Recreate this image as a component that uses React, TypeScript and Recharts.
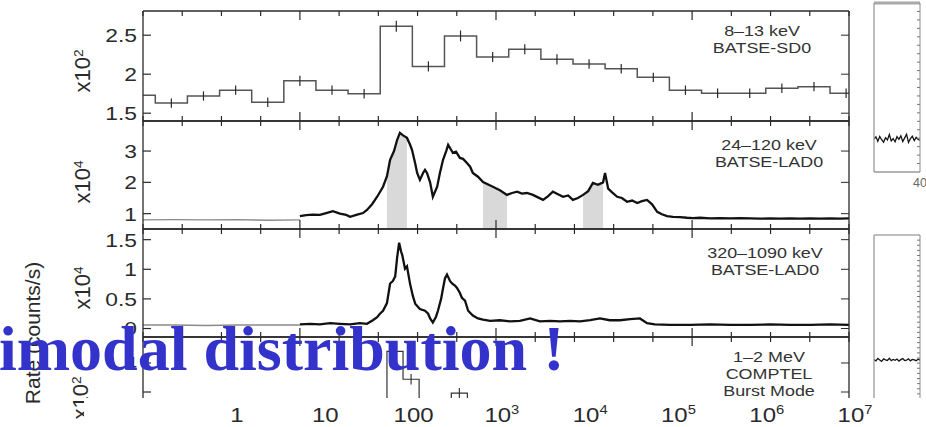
import React from "react";
import { ComposedChart, Line, Area, XAxis, YAxis, ErrorBar } from "recharts";

const W = 926;
const PLOT_L = 143;
const PLOT_R = 849;
const INK = "#2a2a2a";
const SANS = "'Liberation Sans', Arial, Helvetica, sans-serif";

// shared time axis of the stacked panels (s from trigger)
const timeDomain: [number, number] = [-40, 140];
const timeTicks = [-40, -30, -20, -10, 0, 10, 20, 30, 40, 50, 60, 70, 80, 90, 100, 110, 120, 130, 140];
const timeMajor = [0, 50, 100];

// 8-13 keV BATSE-SD0, 8.192 s bins (x10^2 counts/s)
const sdCenter = [-40.96, -32.77, -24.58, -16.38, -8.19, 0, 8.19, 16.38, 24.58, 32.77, 40.96, 49.15, 57.34, 65.54, 73.73, 81.92, 90.11, 98.3, 106.5, 114.69, 122.88, 131.07, 139.26];
const sdRate = [1.73, 1.63, 1.72, 1.795, 1.64, 1.915, 1.795, 1.75, 2.615, 2.1, 2.49, 2.22, 2.32, 2.19, 2.13, 2.07, 1.96, 1.795, 1.755, 1.755, 1.82, 1.84, 1.755];
const sdErr = [0.06, 0.06, 0.06, 0.06, 0.06, 0.065, 0.06, 0.06, 0.07, 0.065, 0.07, 0.065, 0.065, 0.065, 0.06, 0.06, 0.06, 0.06, 0.06, 0.06, 0.06, 0.06, 0.06];
const sdHalfBin = 4.096;

// 24-120 keV BATSE-LAD0 (x10^4 counts/s)
const ladLoPreT = [-40, -32, -24, -16, -8, 0];
const ladLoPre = [0.8, 0.81, 0.8, 0.81, 0.79, 0.8];
const ladLoT = [0, 1.6, 3.3, 5.1, 6.7, 8.4, 10.2, 11.8, 12.8, 14.6, 16.1, 17.1, 18.4, 19.7, 21.2, 22.2, 23.0, 24.0, 24.8, 25.5, 26.3, 27.3, 28.1, 28.6, 29.4, 29.9, 30.6, 31.4, 31.9, 32.4, 33.2, 33.9, 35.0, 35.7, 36.5, 37.3, 37.8, 38.5, 39.0, 39.8, 40.8, 41.6, 42.6, 43.4, 44.1, 45.4, 46.7, 48.0, 49.2, 51.0, 52.8, 54.1, 55.4, 56.6, 57.9, 59.4, 60.7, 62.0, 63.3, 64.5, 65.8, 67.1, 68.4, 69.6, 70.9, 72.2, 73.5, 74.7, 76.0, 77.3, 77.8, 78.6, 79.6, 80.9, 82.1, 83.4, 84.7, 86.0, 87.2, 88.5, 89.8, 91.1, 92.3, 93.6, 95.1, 96.9, 98.7, 100.2, 102.0, 104.6, 107.1, 109.7, 112.2, 114.8, 117.3, 119.9, 122.4, 125.0, 127.5, 130.1, 132.6, 135.2, 137.7, 140];
const ladLo = [0.92, 0.95, 0.97, 0.96, 1.02, 1.08, 1.0, 0.96, 0.9, 0.97, 1.02, 1.12, 1.3, 1.54, 1.86, 2.2, 2.72, 3.0, 3.36, 3.58, 3.5, 3.42, 3.2, 3.03, 2.6, 2.3, 2.08, 2.3, 2.4, 2.3, 2.0, 1.54, 1.86, 2.3, 2.72, 3.0, 3.2, 3.05, 2.94, 2.98, 2.78, 2.75, 2.62, 2.5, 2.3, 2.18, 2.01, 1.93, 1.86, 1.75, 1.6, 1.66, 1.7, 1.64, 1.66, 1.6, 1.52, 1.44, 1.56, 1.7, 1.62, 1.54, 1.58, 1.44, 1.5, 1.6, 1.72, 1.98, 1.92, 2.0, 2.3, 1.8, 1.68, 1.54, 1.5, 1.38, 1.42, 1.34, 1.4, 1.44, 1.3, 1.06, 0.98, 0.92, 0.9, 0.89, 0.87, 0.86, 0.87, 0.85, 0.86, 0.85, 0.86, 0.85, 0.84, 0.85, 0.84, 0.85, 0.84, 0.85, 0.84, 0.85, 0.84, 0.85];
const bandWindows = [[22.2, 27.3], [46.7, 52.8], [72.2, 77.3]];

// 320-1090 keV BATSE-LAD0 (x10^4 counts/s)
const ladHiPreT = [-40, -32, -24, -16, -8, 0];
const ladHiPre = [0.06, 0.06, 0.05, 0.06, 0.06, 0.06];
const ladHiT = [0, 2.6, 5.1, 7.7, 10.2, 12.8, 15.3, 17.1, 18.6, 19.7, 20.4, 21.2, 22.2, 23.0, 23.7, 24.3, 24.8, 25.3, 25.8, 26.1, 26.8, 27.3, 28.1, 28.8, 29.4, 30.6, 31.9, 32.7, 33.2, 33.9, 34.7, 35.2, 36.0, 36.5, 37.0, 37.5, 38.3, 38.8, 39.6, 40.1, 40.8, 41.3, 42.1, 42.9, 44.1, 45.4, 46.7, 48.5, 51.0, 53.6, 56.1, 58.7, 61.2, 63.8, 66.3, 68.9, 71.4, 74.0, 76.5, 79.0, 81.6, 84.2, 86.7, 88.5, 90.5, 94.4, 99.5, 104.6, 109.7, 114.8, 119.9, 125.0, 130.1, 135.2, 140];
const ladHi = [0.07, 0.08, 0.07, 0.09, 0.08, 0.07, 0.09, 0.08, 0.14, 0.19, 0.25, 0.3, 0.43, 0.76, 0.8, 0.88, 1.2, 1.45, 1.3, 1.24, 1.01, 1.05, 0.75, 0.55, 0.42, 0.33, 0.3, 0.25, 0.17, 0.1, 0.2, 0.3, 0.5, 0.68, 0.85, 0.91, 0.8, 0.76, 0.72, 0.68, 0.6, 0.52, 0.47, 0.3, 0.22, 0.17, 0.15, 0.13, 0.14, 0.12, 0.13, 0.17, 0.12, 0.13, 0.12, 0.13, 0.12, 0.14, 0.17, 0.14, 0.14, 0.16, 0.17, 0.09, 0.07, 0.06, 0.06, 0.07, 0.06, 0.06, 0.07, 0.06, 0.06, 0.07, 0.06];

// 1-2 MeV COMPTEL burst mode (x10^2 counts/s), 4.1 s bins
const comptelStart = [1.7, 5.8, 9.9, 14.0, 18.1, 22.2, 26.3, 30.4, 34.5, 38.6, 42.7, 46.8, 50.9];
const comptelRate = [3.15, 3.2, 3.1, 3.2, 3.25, 4.2, 3.72, 3.3, 3.25, 3.48, 3.3, 3.2, 3.15];
const comptelErr = [0.09, 0.09, 0.09, 0.09, 0.09, 0.1, 0.09, 0.09, 0.09, 0.09, 0.09, 0.09, 0.09];
const comptelBin = 4.1;

// log labels printed under the figure
const logTicks = [1, 10, 100, 1e3, 1e4, 1e5, 1e6, 1e7];
const logDomain: [number, number] = [0.0861, 3.23e7];

// cut-off neighbouring figure on the right
const sideT = [22, 22.75, 23.5, 24.25, 25, 25.75, 26.5, 27.25, 28, 28.75, 29.5, 30.25, 31, 31.75, 32.5, 33.25, 34, 34.75, 35.5, 36.25, 37, 37.75, 38.5, 39.25, 40];
const sideUpper = [19.5, 20.8, 18.2, 21.0, 19.1, 17.6, 20.3, 19.0, 22.1, 18.4, 19.8, 17.9, 20.9, 19.3, 21.4, 18.0, 20.2, 22.3, 17.5, 19.7, 21.1, 18.6, 20.5, 19.2, 18.8];
const sideLower = [39.2, 38.6, 39.8, 39.0, 38.4, 39.6, 39.1, 38.8, 39.9, 38.7, 39.3, 38.9, 39.5, 38.5, 39.2, 39.7, 38.8, 39.0, 39.6, 38.6, 39.3, 39.1, 38.7, 39.4, 39.0];

const sdStep = [
  ...sdCenter.map((c, i) => ({ t: Math.max(c - sdHalfBin, timeDomain[0]), v: sdRate[i] })),
  { t: Math.min(sdCenter[sdCenter.length - 1] + sdHalfBin, timeDomain[1]), v: sdRate[sdRate.length - 1] },
];
const sdPoints = sdCenter
  .map((c, i) => ({ t: c, v: sdRate[i], e: sdErr[i] }))
  .filter((d) => d.t > timeDomain[0]);
const ladLoPreData = ladLoPreT.map((t, i) => ({ t, v: ladLoPre[i] }));
const ladLoData = ladLoT.map((t, i) => ({ t, v: ladLo[i] }));
const ladHiPreData = ladHiPreT.map((t, i) => ({ t, v: ladHiPre[i] }));
const ladHiData = ladHiT.map((t, i) => ({ t, v: ladHi[i] }));
const comptelStep = [
  ...comptelStart.map((t, i) => ({ t, v: comptelRate[i] })),
  { t: comptelStart[comptelStart.length - 1] + comptelBin, v: comptelRate[comptelRate.length - 1] },
];
const comptelPoints = comptelStart.map((t, i) => ({ t: t + comptelBin / 2, v: comptelRate[i], e: comptelErr[i] }));
const sideUpperData = sideT.map((t, i) => ({ t, v: sideUpper[i] }));
const sideLowerData = sideT.map((t, i) => ({ t, v: sideLower[i] }));
const logAnchor = logTicks.map((x) => ({ x, y: 0.5 }));

const frame = { stroke: INK, strokeWidth: 1.3 };

const timeTick = (dir: number) => (p: any) => {
  const len = timeMajor.includes(p.payload.value) ? 9 : 5;
  return <line x1={p.x} x2={p.x} y1={p.y} y2={p.y + dir * len} stroke={INK} strokeWidth={1.2} />;
};

const valueTick = (labelled: number[]) => (p: any) => {
  const v = p.payload.value;
  return (
    <g>
      <line x1={p.x} x2={p.x + 8} y1={p.y} y2={p.y} stroke={INK} strokeWidth={1.2} />
      {labelled.includes(v) && (
        <text
          transform={`translate(${p.x - 6},${p.y}) scale(1.2,1)`}
          dy="0.36em"
          textAnchor="end"
          fontSize={19}
          fill={INK}
          fontFamily={SANS}
        >
          {String(v)}
        </text>
      )}
    </g>
  );
};

const rightTick = (len: number, color: string) => (p: any) => (
  <line x1={p.x} x2={p.x - len} y1={p.y} y2={p.y} stroke={color} strokeWidth={1} />
);

const logTick = (p: any) => {
  const v = p.payload.value;
  const e = Math.round(Math.log10(v));
  return (
    <text
      transform={`translate(${p.x},${p.y + 24}) scale(1.23,1)`}
      textAnchor="middle"
      fontSize={19.5}
      fill={INK}
      fontFamily={SANS}
    >
      {e < 3 ? String(v) : (
        <>
          10<tspan dy={-8} fontSize={12}>{e}</tspan>
        </>
      )}
    </text>
  );
};

// every axis is 1px thick so Recharts still draws it; margins absorb that pixel
function Panel({ top, bottom, yDomain, yLabels, yMinor = [], children }: {
  top: number; bottom: number; yDomain: [number, number]; yLabels: number[]; yMinor?: number[]; children: React.ReactNode;
}) {
  const pad = 4;
  return (
    <div style={{ position: "absolute", left: 0, top: top - pad }}>
      <ComposedChart
        width={W}
        height={bottom - top + 2 * pad}
        margin={{ top: pad - 1, bottom: pad - 1, left: PLOT_L - 1, right: W - PLOT_R - 1 }}
      >
        <XAxis xAxisId="t" dataKey="t" type="number" domain={timeDomain} allowDataOverflow ticks={timeTicks}
          interval={0} height={1} tickSize={0} tickMargin={0} tickLine={false} axisLine={frame} tick={timeTick(-1)} />
        <XAxis xAxisId="top" orientation="top" dataKey="t" type="number" domain={timeDomain} allowDataOverflow ticks={timeTicks}
          interval={0} height={1} tickSize={0} tickMargin={0} tickLine={false} axisLine={frame} tick={timeTick(1)} />
        <YAxis yAxisId="v" type="number" domain={yDomain} allowDataOverflow ticks={[...yLabels, ...yMinor]}
          interval={0} width={1} tickSize={0} tickMargin={0} tickLine={false} axisLine={frame} tick={valueTick(yLabels)} />
        <YAxis yAxisId="r" orientation="right" type="number" domain={yDomain} allowDataOverflow ticks={[...yLabels, ...yMinor]}
          interval={0} width={1} tickSize={0} tickMargin={0} tickLine={false} axisLine={frame} tick={rightTick(8, INK)} />
        {children}
      </ComposedChart>
    </div>
  );
}

function Caption({ cx, cy, lines }: { cx: number; cy: number; lines: string[] }) {
  return (
    <div style={{
      position: "absolute", left: cx, top: cy, transform: "translate(-50%, -50%) scaleX(1.28)",
      textAlign: "center", fontFamily: SANS, fontSize: 14, lineHeight: "17px", color: "#333", whiteSpace: "nowrap",
    }}>
      {lines.map((l) => <div key={l}>{l}</div>)}
    </div>
  );
}

function VLabel({ cx, cy, size, children }: { cx: number; cy: number; size: number; children: React.ReactNode }) {
  return (
    <div style={{
      position: "absolute", left: cx, top: cy, transform: "translate(-50%, -50%) rotate(-90deg)",
      fontFamily: SANS, fontSize: size, color: INK, whiteSpace: "nowrap", lineHeight: 1,
    }}>
      {children}
    </div>
  );
}

const Pow = ({ n }: { n: number }) => (
  <>x10<sup style={{ fontSize: "0.62em", verticalAlign: "0.55em", lineHeight: 0 }}>{n}</sup></>
);

function SideBox({ top, plotH, data, tickStep, label }: {
  top: number; plotH: number; data: { t: number; v: number }[]; tickStep: number; label: boolean;
}) {
  const ticks = Array.from({ length: Math.round(100 / tickStep) - 1 }, (_, i) => tickStep * (i + 1));
  const gray = { stroke: "#9a9a9a", strokeWidth: 1.3 };
  return (
    <div style={{ position: "absolute", left: 870, top: top - 3 }}>
      <ComposedChart width={66} height={plotH + 26} margin={{ top: 2, left: 3, right: 15, bottom: 22 }}>
        <XAxis xAxisId="x" dataKey="t" type="number" domain={[22, 40]} allowDataOverflow ticks={[40]} interval={0}
          height={1} tickSize={0} tickMargin={0} tickLine={false} axisLine={gray}
          tick={(p: any) => label ? (
            <text x={p.x} y={p.y + 15} textAnchor="middle" fontSize={12.5} fill="#666" fontFamily={SANS}>{p.payload.value}</text>
          ) : <g />} />
        <XAxis xAxisId="top" orientation="top" dataKey="t" type="number" domain={[22, 40]} allowDataOverflow ticks={[40]}
          height={1} tickLine={false} axisLine={{ stroke: "#a8a8a8", strokeWidth: label ? 3 : 1.3 }} tick={false} />
        <YAxis yAxisId="y" type="number" domain={[0, 100]} allowDataOverflow width={1} ticks={[50]} tickLine={false}
          axisLine={gray} tick={false} />
        <YAxis yAxisId="r" orientation="right" type="number" domain={[0, 100]} allowDataOverflow width={1} ticks={ticks}
          interval={0} tickSize={0} tickMargin={0} tickLine={false} axisLine={{ stroke: "#8a8a8a", strokeWidth: 1 }}
          tick={rightTick(3, "#777")} />
        <Line xAxisId="x" yAxisId="y" data={data} dataKey="v" type="linear" stroke="#151515" strokeWidth={1.3}
          dot={false} isAnimationActive={false} />
      </ComposedChart>
    </div>
  );
}

export default function App() {
  return (
    <div style={{
      position: "absolute", left: 0, top: 0, width: W, height: 427, overflow: "hidden", background: "#fff",
    }}>
      <Panel top={11} bottom={121} yDomain={[1.4, 2.81]} yLabels={[1.5, 2, 2.5]}>
        <Line xAxisId="t" yAxisId="v" data={sdStep} dataKey="v" type="stepAfter" stroke="#555" strokeWidth={1.5}
          dot={false} isAnimationActive={false} />
        <Line xAxisId="t" yAxisId="v" data={sdPoints} dataKey="v" stroke="none" dot={false} isAnimationActive={false}>
          <ErrorBar dataKey="e" direction="y" width={0} stroke={INK} strokeWidth={1.2} />
        </Line>
      </Panel>

      <Panel top={121} bottom={229} yDomain={[0.51, 3.96]} yLabels={[1, 2, 3]}>
        {bandWindows.map(([a, b]) => (
          <Area key={a} xAxisId="t" yAxisId="v" data={ladLoData.filter((d) => d.t >= a && d.t <= b)} dataKey="v"
            type="linear" stroke="none" fill="#d9d9d9" fillOpacity={1} baseValue="dataMin" isAnimationActive={false} />
        ))}
        <Line xAxisId="t" yAxisId="v" data={ladLoPreData} dataKey="v" type="linear" stroke="#8a8a8a" strokeWidth={1.4}
          dot={false} isAnimationActive={false} />
        <Line xAxisId="t" yAxisId="v" data={ladLoData} dataKey="v" type="linear" stroke="#111" strokeWidth={2.3}
          dot={false} isAnimationActive={false} />
      </Panel>

      <Panel top={229} bottom={337} yDomain={[-0.143, 1.68]} yLabels={[0, 0.5, 1, 1.5]}>
        <Line xAxisId="t" yAxisId="v" data={ladHiPreData} dataKey="v" type="linear" stroke="#8a8a8a" strokeWidth={1.4}
          dot={false} isAnimationActive={false} />
        <Line xAxisId="t" yAxisId="v" data={ladHiData} dataKey="v" type="linear" stroke="#111" strokeWidth={2.3}
          dot={false} isAnimationActive={false} />
      </Panel>

      <Panel top={337} bottom={427} yDomain={[2.897, 4.448]} yLabels={[4]} yMinor={[3, 3.5]}>
        <Line xAxisId="t" yAxisId="v" data={comptelStep} dataKey="v" type="stepAfter" stroke="#333" strokeWidth={1.2}
          dot={false} isAnimationActive={false} />
        <Line xAxisId="t" yAxisId="v" data={comptelPoints} dataKey="v" stroke="none" dot={false} isAnimationActive={false}>
          <ErrorBar dataKey="e" direction="y" width={0} stroke={INK} strokeWidth={1.1} />
        </Line>
      </Panel>

      <SideBox top={3} plotH={169} data={sideUpperData} tickStep={5} label />
      <SideBox top={235} plotH={205} data={sideLowerData} tickStep={2.5} label={false} />

      <Caption cx={762} cy={40} lines={["8\u201313 keV", "BATSE-SD0"]} />
      <Caption cx={769} cy={154} lines={["24\u2013120 keV", "BATSE-LAD0"]} />
      <Caption cx={765} cy={262} lines={["320\u20131090 keV", "BATSE-LAD0"]} />
      <Caption cx={769} cy={374} lines={["1\u20132 MeV", "COMPTEL", "Burst Mode"]} />

      <VLabel cx={83} cy={71} size={22}><Pow n={2} /></VLabel>
      <VLabel cx={83} cy={182} size={22}><Pow n={4} /></VLabel>
      <VLabel cx={83} cy={288} size={22}><Pow n={4} /></VLabel>
      <VLabel cx={81} cy={398} size={22}><Pow n={2} /></VLabel>
      <VLabel cx={32} cy={333} size={21}>Rate (counts/s)</VLabel>

      <div style={{ position: "absolute", left: 84, top: 398, width: W - 84, height: 29, background: "#fff" }} />
      <div style={{ position: "absolute", left: 0, top: 397 }}>
        <ComposedChart width={W} height={30} margin={{ top: 0, bottom: 0, left: PLOT_L, right: 26 }}>
          <XAxis xAxisId="log" dataKey="x" orientation="top" type="number" scale="log" domain={logDomain} allowDataOverflow
            ticks={logTicks} interval={0} height={1} tickSize={0} tickMargin={0} tickLine={false} axisLine={false}
            tick={logTick} />
          <YAxis yAxisId="ly" hide type="number" domain={[0, 1]} />
          <Line xAxisId="log" yAxisId="ly" data={logAnchor} dataKey="y" stroke="none" dot={false}
            isAnimationActive={false} />
        </ComposedChart>
      </div>

      <div style={{
        position: "absolute", left: -1, top: 317, fontFamily: "'Liberation Serif', 'Times New Roman', serif",
        fontWeight: 700, fontSize: 64, lineHeight: "63px", color: "#3333cc", whiteSpace: "nowrap",
      }}>
        imodal distribution !
      </div>
    </div>
  );
}
